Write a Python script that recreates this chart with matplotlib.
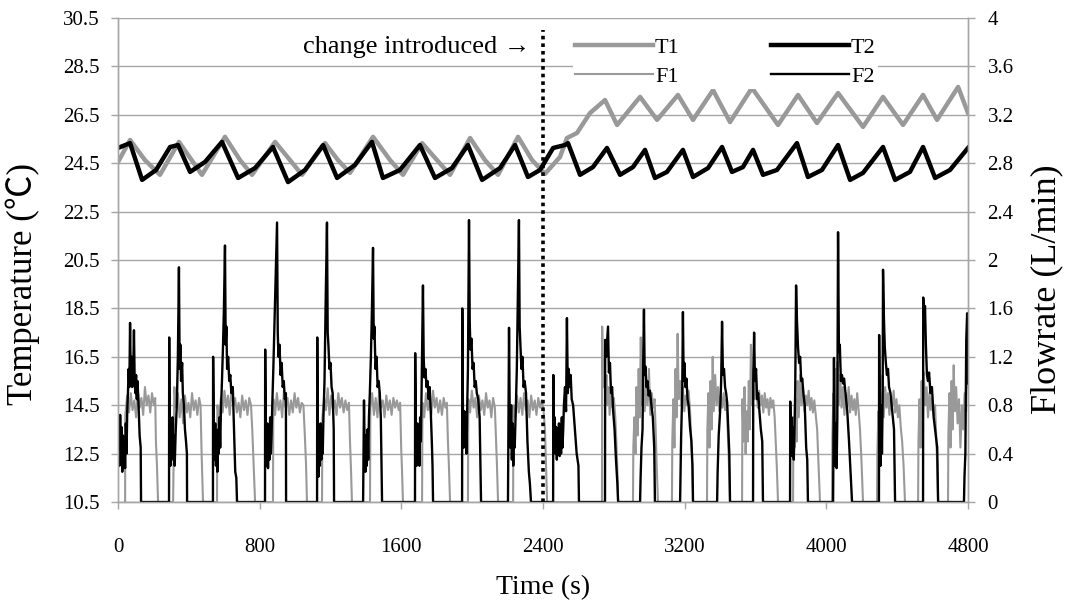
import matplotlib.pyplot as plt

# ---------------------------------------------------------------------------
# Data
# ---------------------------------------------------------------------------

# T1 (left axis, deg C)
t1_time = [0, 68, 152, 237, 344, 407, 474, 604, 689, 757, 887, 971, 1039,
           1169, 1242, 1310, 1440, 1536, 1609, 1717, 1801, 1875, 1988, 2072,
           2146, 2259, 2338, 2411, 2496, 2535, 2592, 2665, 2750, 2818, 2948,
           3044, 3162, 3247, 3360, 3456, 3580, 3727, 3840, 3947, 4066, 4207,
           4320, 4433, 4546, 4625, 4744, 4800]
t1_temp = [24.55, 25.46, 24.63, 24.02, 25.38, 24.72, 24.02, 25.59, 24.63,
           24.02, 25.38, 24.63, 24.02, 25.33, 24.63, 24.10, 25.59, 24.63,
           24.02, 25.33, 24.63, 24.02, 25.54, 24.63, 24.02, 25.59, 24.63,
           24.06, 24.76, 25.54, 25.75, 26.57, 27.11, 26.08, 27.24, 26.29,
           27.32, 26.29, 27.52, 26.20, 27.61, 26.08, 27.32, 26.16, 27.40,
           26.00, 27.24, 26.08, 27.32, 26.29, 27.65, 26.57]

# T2 (left axis, deg C)
t2_time = [0, 68, 136, 215, 294, 339, 407, 491, 587, 678, 774, 875, 960,
           1056, 1158, 1237, 1338, 1434, 1496, 1592, 1705, 1790, 1886, 1976,
           2056, 2157, 2242, 2315, 2383, 2457, 2524, 2541, 2609, 2682, 2761,
           2835, 2908, 2976, 3032, 3100, 3190, 3247, 3332, 3411, 3467, 3529,
           3586, 3642, 3721, 3834, 3896, 3975, 4066, 4134, 4207, 4320, 4388,
           4472, 4546, 4614, 4698, 4800]
t2_temp = [25.13, 25.33, 23.81, 24.22, 25.17, 25.25, 24.14, 24.55, 25.38,
           23.89, 24.30, 25.17, 23.72, 24.22, 25.25, 23.89, 24.43, 25.38,
           23.89, 24.22, 25.25, 23.89, 24.30, 25.25, 23.81, 24.30, 25.25,
           23.93, 24.22, 25.13, 25.25, 25.33, 24.02, 24.34, 25.13, 24.02,
           24.34, 25.05, 23.89, 24.14, 25.05, 23.93, 24.30, 25.17, 24.14,
           24.34, 25.05, 24.02, 24.22, 25.33, 23.93, 24.22, 25.25, 23.81,
           24.10, 25.17, 23.81, 24.14, 25.17, 23.89, 24.22, 25.13]

# F1 (right axis, L/min) as (time, flow) pairs
f1_points = [
    (40, 0), (41, 0.72), (52, 0.88), (62, 0.74), (72, 0.9), (82, 0.76), (92, 0.84), (102, 0.7),
    (112, 0.92), (122, 0.78), (132, 0.86), (142, 0.72), (152, 0.95), (162, 0.8), (172, 0.88),
    (182, 0.74), (192, 0.9), (202, 0.8), (210, 0.86), (214, 0.5), (220, 0.3), (226, 0),
    (311, 0), (314, 0.35), (318, 0.95), (328, 0.78), (338, 0.9), (348, 0.7), (358, 0.85),
    (368, 0.65), (378, 0.88), (388, 0.74), (398, 0.82), (408, 0.7), (418, 0.9), (428, 0.76),
    (438, 0.84), (448, 0.72), (458, 0.86), (466, 0.8), (472, 0.4), (480, 0),
    (559, 0), (561, 0.8), (571, 0.7), (581, 0.86), (591, 0.74), (601, 0.92), (611, 0.78),
    (621, 0.88), (631, 0.72), (641, 0.94), (651, 0.8), (661, 0.86), (671, 0.74), (681, 0.82),
    (691, 0.7), (701, 0.88), (711, 0.76), (721, 0.84), (731, 0.72), (741, 0.86), (751, 0.8),
    (758, 0.6), (766, 0.3), (774, 0),
    (875, 0), (877, 0.85), (887, 0.72), (897, 0.9), (907, 0.76), (917, 0.84), (927, 0.7),
    (937, 0.92), (947, 0.78), (957, 0.86), (967, 0.72), (977, 0.84), (987, 0.74), (997, 0.9),
    (1007, 0.78), (1017, 0.86), (1027, 0.74), (1037, 0.82), (1047, 0.8), (1055, 0.55),
    (1062, 0.3), (1067, 0),
    (1152, 0), (1154, 0.7), (1164, 0.86), (1174, 0.76), (1184, 0.94), (1194, 0.72),
    (1204, 0.88), (1214, 0.76), (1224, 0.84), (1234, 0.72), (1244, 0.9), (1254, 0.78),
    (1264, 0.86), (1274, 0.74), (1284, 0.84), (1294, 0.76), (1304, 0.82), (1310, 0.5),
    (1316, 0.25), (1321, 0),
    (1423, 0), (1425, 0.78), (1435, 0.9), (1445, 0.72), (1455, 0.86), (1465, 0.7),
    (1475, 0.92), (1485, 0.78), (1495, 0.84), (1505, 0.7), (1515, 0.88), (1525, 0.76),
    (1535, 0.84), (1545, 0.72), (1555, 0.86), (1565, 0.78), (1575, 0.84), (1585, 0.76),
    (1593, 0.82), (1599, 0.45), (1604, 0.25), (1609, 0),
    (1717, 0), (1719, 0.82), (1729, 0.7), (1739, 0.9), (1749, 0.76), (1759, 0.84),
    (1769, 0.72), (1779, 0.92), (1789, 0.78), (1799, 0.86), (1809, 0.74), (1819, 0.84),
    (1829, 0.72), (1839, 0.86), (1849, 0.78), (1857, 0.82), (1863, 0.5), (1869, 0.28), (1875, 0),
    (1976, 0), (1978, 0.85), (1988, 0.74), (1998, 0.92), (2008, 0.78), (2018, 0.86),
    (2028, 0.7), (2038, 0.88), (2048, 0.76), (2058, 0.84), (2068, 0.72), (2078, 0.9),
    (2088, 0.78), (2098, 0.84), (2108, 0.7), (2118, 0.86), (2128, 0.78), (2134, 0.55),
    (2140, 0.3), (2146, 0),
    (2231, 0), (2233, 0.8), (2243, 0.7), (2253, 0.88), (2263, 0.74), (2273, 0.86),
    (2283, 0.72), (2293, 0.9), (2303, 0.76), (2313, 0.84), (2323, 0.7), (2333, 0.88),
    (2343, 0.76), (2353, 0.84), (2363, 0.72), (2373, 0.86), (2383, 0.78), (2393, 0.84),
    (2403, 0.76), (2411, 0.6), (2417, 0.3), (2423, 0),
    (2733, 0), (2734, 1.45), (2740, 0.95), (2746, 1.2), (2752, 0.9), (2758, 1.05),
    (2764, 0.8), (2770, 0.95), (2776, 0.72), (2784, 0.9), (2792, 0.78), (2800, 0.86),
    (2808, 0.7), (2814, 0.5), (2820, 0.25), (2824, 0),
    (2908, 0), (2910, 0.45), (2916, 0.7), (2922, 0.4), (2928, 0.95), (2934, 0.55),
    (2940, 1.1), (2946, 0.7), (2952, 1.36), (2958, 0.8), (2966, 1.0), (2974, 0.75),
    (2982, 0.95), (2990, 0.8), (2998, 1.1), (3006, 0.72), (3014, 0.9), (3022, 0.78),
    (3030, 0.85), (3036, 0.6), (3042, 0.3), (3049, 0),
    (3128, 0), (3130, 0.5), (3136, 0.85), (3142, 0.45), (3148, 1.1), (3154, 0.7),
    (3160, 1.39), (3166, 0.85), (3174, 1.0), (3182, 0.8), (3190, 0.95), (3198, 0.75),
    (3206, 0.88), (3214, 0.8), (3222, 0.92), (3230, 0.76), (3236, 0.55), (3242, 0.3), (3247, 0),
    (3326, 0), (3328, 0.6), (3334, 0.9), (3340, 0.45), (3346, 1.0), (3352, 0.6),
    (3358, 1.2), (3364, 0.75), (3372, 1.05), (3380, 0.8), (3388, 0.95), (3396, 0.75),
    (3404, 0.88), (3412, 0.78), (3420, 0.9), (3428, 0.76), (3436, 0.85), (3444, 0.55),
    (3450, 0.3), (3456, 0),
    (3524, 0), (3526, 0.85), (3532, 0.5), (3538, 0.95), (3544, 0.4), (3550, 0.75),
    (3556, 0.5), (3562, 1.0), (3568, 0.6), (3574, 1.3), (3580, 0.8), (3588, 1.1),
    (3596, 0.85), (3604, 1.0), (3612, 0.78), (3620, 0.92), (3628, 0.8), (3636, 0.88),
    (3644, 0.74), (3652, 0.9), (3660, 0.78), (3668, 0.85), (3676, 0.72), (3684, 0.86),
    (3692, 0.78), (3700, 0.84), (3708, 0.7), (3714, 0.5), (3720, 0.3), (3727, 0),
    (3812, 0), (3814, 0.7), (3820, 0.45), (3826, 0.85), (3832, 0.5), (3838, 1.0),
    (3844, 0.7), (3852, 1.05), (3860, 0.8), (3868, 0.95), (3876, 0.75), (3884, 0.88),
    (3892, 0.8), (3900, 0.92), (3908, 0.76), (3916, 0.86), (3924, 0.74), (3932, 0.84),
    (3940, 0.72), (3948, 0.6), (3956, 0.3), (3964, 0),
    (4032, 0), (4034, 0.55), (4040, 0.9), (4046, 0.45), (4052, 1.1), (4058, 0.6),
    (4064, 1.16), (4070, 0.8), (4078, 1.05), (4086, 0.78), (4094, 0.95), (4102, 0.72),
    (4110, 0.9), (4118, 0.78), (4126, 0.95), (4134, 0.74), (4142, 0.88), (4150, 0.76),
    (4158, 0.85), (4166, 0.72), (4174, 0.9), (4182, 0.76), (4190, 0.6), (4198, 0.35), (4207, 0),
    (4286, 0), (4288, 0.4), (4294, 0.75), (4300, 0.35), (4306, 0.9), (4312, 0.5),
    (4318, 1.05), (4324, 0.7), (4332, 0.95), (4340, 0.78), (4348, 0.9), (4356, 0.72),
    (4364, 0.86), (4372, 0.8), (4380, 0.92), (4388, 0.74), (4396, 0.85), (4404, 0.7),
    (4412, 0.8), (4420, 0.62), (4428, 0.5), (4436, 0.3), (4444, 0),
    (4518, 0), (4520, 0.5), (4526, 0.85), (4532, 0.45), (4538, 1.0), (4544, 0.6),
    (4550, 1.07), (4558, 0.8), (4566, 0.95), (4574, 0.7), (4582, 0.9), (4590, 0.76),
    (4598, 0.86), (4606, 0.72), (4614, 0.8), (4620, 0.55), (4626, 0.3), (4631, 0),
    (4687, 0), (4689, 0.55), (4695, 0.9), (4701, 0.45), (4707, 1.0), (4713, 0.6),
    (4719, 1.13), (4725, 0.75), (4733, 0.95), (4741, 0.65), (4749, 0.85), (4757, 0.45),
    (4765, 0.8), (4773, 0.6), (4781, 0.9), (4789, 0.75), (4795, 1.1), (4800, 0.95),
]

# F2 (right axis, L/min) as (time, flow) pairs
f2_points = [
    (0, 0.35), (4, 0.6), (8, 0.3), (12, 0.72), (16, 0.4), (20, 0.62), (24, 0.25), (28, 0.55),
    (32, 0.3), (36, 0.5), (40, 0.28), (44, 0.65), (48, 0.4), (52, 0.75), (56, 0.9), (60, 1.1),
    (64, 0.95), (68, 1.48), (72, 1.0), (76, 1.2), (80, 0.95), (86, 1.1), (90, 1.42), (94, 1.0),
    (98, 0.9), (102, 1.05), (106, 0.85), (110, 1.0), (116, 0.8), (122, 0.55), (128, 0.45), (130, 0),
    (288, 0), (289, 1.36), (292, 0.5), (296, 0.3), (300, 0.62), (304, 0.35), (308, 0.7),
    (312, 0.4), (316, 0.55), (320, 0.3), (326, 0.6), (332, 0.8), (338, 1.2), (344, 1.94),
    (348, 1.1), (352, 1.3), (356, 1.0), (362, 1.15), (366, 0.9), (372, 0.8), (378, 0.6),
    (384, 0.5), (389, 0.4), (390, 0),
    (536, 0), (537, 1.2), (541, 0.6), (545, 0.35), (549, 0.65), (553, 0.3), (557, 0.55),
    (561, 0.25), (565, 0.6), (569, 0.4), (573, 0.7), (577, 0.45), (581, 0.75), (587, 1.0),
    (593, 1.3), (598, 1.6), (604, 2.12), (608, 1.3), (612, 1.45), (616, 1.1), (622, 1.2),
    (628, 1.0), (634, 1.05), (640, 0.9), (648, 0.95), (655, 0.6), (662, 0.25), (668, 0.2), (672, 0),
    (830, 0), (831, 1.26), (835, 0.5), (839, 0.3), (843, 0.65), (847, 0.28), (851, 0.6),
    (855, 0.35), (859, 0.7), (863, 0.4), (867, 0.55), (871, 0.8), (877, 1.1), (884, 1.5),
    (891, 1.9), (898, 2.31), (902, 1.4), (906, 1.2), (912, 1.3), (918, 1.05), (924, 1.15),
    (930, 0.95), (936, 1.0), (942, 0.85), (948, 0.9), (949, 0),
    (1124, 0), (1125, 1.36), (1128, 0.4), (1132, 0.21), (1136, 0.6), (1140, 0.3),
    (1144, 0.65), (1148, 0.35), (1152, 0.5), (1156, 0.4), (1160, 0.7), (1166, 1.0),
    (1172, 1.6), (1180, 2.31), (1184, 1.4), (1188, 1.3), (1194, 1.1), (1200, 1.15),
    (1206, 0.95), (1212, 0.9), (1218, 0.6), (1220, 0),
    (1384, 0), (1389, 0.84), (1393, 0.4), (1397, 0.25), (1401, 0.55), (1405, 0.3),
    (1409, 0.6), (1413, 0.35), (1417, 0.7), (1422, 0.9), (1428, 1.2), (1434, 1.6),
    (1440, 2.1), (1444, 1.35), (1448, 1.45), (1454, 1.1), (1460, 1.2), (1466, 0.95),
    (1472, 1.0), (1478, 0.9), (1484, 0.7), (1491, 0),
    (1677, 0), (1678, 1.23), (1682, 0.6), (1686, 0.3), (1690, 0.65), (1694, 0.35),
    (1698, 0.6), (1702, 0.3), (1706, 0.7), (1710, 0.5), (1714, 0.9), (1722, 1.79),
    (1726, 1.2), (1730, 1.03), (1736, 1.1), (1742, 0.95), (1748, 1.0), (1754, 0.85),
    (1760, 0.95), (1766, 0.75), (1772, 0.5), (1776, 0.3), (1779, 0),
    (1943, 0), (1944, 1.6), (1948, 0.7), (1952, 0.45), (1956, 0.75), (1960, 0.5),
    (1964, 0.68), (1968, 0.4), (1972, 0.8), (1976, 1.1), (1982, 2.33), (1986, 1.5),
    (1990, 1.26), (1996, 1.35), (2002, 1.1), (2008, 1.15), (2014, 0.95), (2020, 1.0),
    (2026, 0.9), (2034, 0.85), (2042, 0.7), (2050, 0),
    (2202, 0), (2208, 1.44), (2212, 0.7), (2216, 0.45), (2220, 0.8), (2224, 0.35),
    (2228, 0.65), (2232, 0.3), (2236, 0.6), (2240, 0.45), (2246, 0.75), (2252, 1.1),
    (2258, 1.7), (2264, 2.33), (2268, 1.45), (2272, 1.31), (2278, 1.1), (2284, 1.2),
    (2290, 0.95), (2296, 1.0), (2304, 0.9), (2312, 0.5), (2320, 0.25), (2326, 0.15), (2332, 0),
    (2457, 0), (2458, 1.05), (2462, 0.5), (2466, 0.7), (2470, 0.4), (2474, 0.62),
    (2478, 0.35), (2482, 0.6), (2486, 0.42), (2490, 0.65), (2494, 0.38), (2498, 0.58),
    (2502, 0.4), (2506, 0.7), (2510, 0.45), (2514, 0.6), (2518, 0.8), (2524, 0.95),
    (2530, 0.75), (2535, 1.52), (2540, 0.9), (2545, 1.1), (2550, 0.95), (2556, 1.05),
    (2562, 0.85), (2570, 0.8), (2580, 0.6), (2590, 0.4), (2600, 0.3), (2603, 0),
    (2750, 0), (2751, 1.34), (2756, 1.2), (2767, 1.45), (2772, 1.07), (2778, 1.15),
    (2784, 0.9), (2790, 0.95), (2796, 0.75), (2804, 0.6), (2812, 0.35), (2820, 0.15), (2824, 0),
    (2948, 0), (2951, 0.2), (2956, 0.45), (2962, 0.6), (2966, 1.2), (2970, 1.59),
    (2974, 1.05), (2978, 1.12), (2984, 0.95), (2990, 1.0), (2996, 0.88), (3004, 0.92),
    (3012, 0.8), (3020, 0.7), (3028, 0.45), (3032, 0),
    (3174, 0), (3176, 0.2), (3180, 0.55), (3186, 0.9), (3190, 1.57), (3194, 1.0),
    (3198, 1.15), (3204, 0.95), (3210, 1.02), (3216, 0.85), (3222, 0.8), (3230, 0.62),
    (3238, 0.5), (3244, 0.3), (3247, 0),
    (3383, 0), (3386, 0.25), (3392, 0.55), (3400, 0.75), (3406, 1.0), (3411, 1.49),
    (3416, 1.05), (3422, 1.1), (3428, 0.95), (3434, 0.9), (3440, 0.82), (3446, 0.6),
    (3452, 0.4), (3456, 0),
    (3586, 0), (3587, 1.0), (3592, 1.4), (3597, 1.0), (3603, 1.1), (3609, 0.85),
    (3615, 0.9), (3622, 0.75), (3630, 0.6), (3638, 0.5), (3642, 0),
    (3795, 0), (3796, 0.83), (3800, 0.45), (3804, 0.7), (3808, 0.38), (3812, 0.62),
    (3816, 0.35), (3820, 0.6), (3824, 0.9), (3829, 1.79), (3834, 1.5), (3840, 1.28),
    (3846, 1.15), (3852, 1.2), (3858, 1.0), (3864, 1.02), (3870, 0.9), (3878, 0.8),
    (3886, 0.45), (3892, 0.35), (3896, 0),
    (4038, 0), (4043, 1.19), (4046, 0.6), (4050, 0.3), (4054, 0.65), (4058, 0.28),
    (4062, 0.7), (4066, 2.23), (4071, 1.24), (4076, 1.3), (4082, 1.0), (4088, 1.05),
    (4094, 0.98), (4100, 1.02), (4108, 0.9), (4118, 0.75), (4128, 0.5), (4138, 0.21), (4145, 0),
    (4297, 0), (4298, 1.38), (4302, 0.7), (4306, 0.3), (4310, 0.8), (4314, 0.4),
    (4318, 0.85), (4320, 1.92), (4325, 1.52), (4330, 1.28), (4336, 1.15), (4342, 1.05),
    (4348, 1.1), (4354, 0.95), (4362, 0.9), (4372, 0.75), (4382, 0.6), (4388, 0),
    (4546, 0), (4547, 1.69), (4552, 1.55), (4557, 1.62), (4562, 1.3), (4568, 1.05),
    (4574, 1.0), (4580, 1.07), (4588, 0.9), (4596, 0.95), (4606, 0.7), (4618, 0.55),
    (4626, 0.45), (4631, 0),
    (4777, 0), (4780, 0.21), (4785, 0.4), (4790, 1.34), (4795, 1.56), (4798, 1.15), (4800, 0.98),
]

time_ticks = [0, 800, 1600, 2400, 3200, 4000, 4800]
temp_ticks = [10.5, 12.5, 14.5, 16.5, 18.5, 20.5, 22.5, 24.5, 26.5, 28.5, 30.5]
flow_ticks = [0, 0.4, 0.8, 1.2, 1.6, 2.0, 2.4, 2.8, 3.2, 3.6, 4.0]
flow_tick_labels = ["0", "0.4", "0.8", "1.2", "1.6", "2", "2.4", "2.8", "3.2", "3.6", "4"]
change_time = 2400

# ---------------------------------------------------------------------------
# Style
# ---------------------------------------------------------------------------

GREY = "#999999"
GRID = "#a6a6a6"
plt.rcParams["font.family"] = ["Liberation Serif", "DejaVu Serif"]

f1_time, f1_flow = zip(*f1_points)
f2_time, f2_flow = zip(*f2_points)

fig = plt.figure(figsize=(10.7, 6.1), dpi=100)
ax = fig.add_axes([0.1103, 0.177, 0.7944, 0.7935])
ax2 = ax.twinx()

ax.plot(t1_time, t1_temp, color=GREY, lw=3.2, label="T1", solid_joinstyle="round")
ax.plot(t2_time, t2_temp, color="black", lw=3.2, label="T2", solid_joinstyle="round")
ax2.plot(f1_time, f1_flow, color=GREY, lw=1.5, label="F1")
ax2.plot(f2_time, f2_flow, color="black", lw=1.7, label="F2")
ax2.axvline(change_time, ymax=0.975, color="black", lw=2.6, ls=(0, (1, 1.1)), zorder=5)

ax.set_xlim(0, 4800)
ax.set_ylim(10.5, 30.5)
ax2.set_ylim(0, 4)
ax.set_xticks(time_ticks)
ax.set_yticks(temp_ticks)
ax.set_yticklabels([f"{v:.1f}" for v in temp_ticks])
ax2.set_yticks(flow_ticks)
ax2.set_yticklabels(flow_tick_labels)

ax.grid(axis="y", color=GRID, lw=1.0)
ax.set_axisbelow(True)
for a in (ax, ax2):
    for sp in a.spines.values():
        sp.set_color(GRID)
        sp.set_linewidth(1.0)
    a.spines["top"].set_visible(False)
ax.tick_params(axis="both", colors=GRID, labelcolor="black", labelsize=15,
               length=5, width=1, direction="out")
ax2.tick_params(axis="y", colors=GRID, labelcolor="black", labelsize=15,
                length=5, width=1, direction="out")
ax.tick_params(axis="x", pad=21)
ax.tick_params(axis="y", pad=8)
ax2.tick_params(axis="y", pad=9)

ax.set_xlabel("Time (s)", fontsize=20, labelpad=13)
ax.set_ylabel("Temperature (\u2103)", fontsize=25,
              family=["Liberation Serif", "Noto Sans CJK SC", "DejaVu Sans"])
ax2.set_ylabel("Flowrate (L/min)", fontsize=26)
# left label: anchor is its right edge; right label: anchor is its left edge
ax.yaxis.set_label_coords(-0.092, 0.45)
ax2.yaxis.set_label_coords(1.073, 0.44)

ax.text(change_time - 70, 29.3, "change introduced \u2192", fontsize=19,
        ha="right", va="center")

lines_t = ax.get_lines()
lines_f = ax2.get_lines()
# column-major fill: row 1 = T1, T2 ; row 2 = F1, F2
order = [lines_t[0], lines_f[0], lines_t[1], lines_f[1]]
leg = ax2.legend(order, [h.get_label() for h in order], ncol=2, loc="upper left",
                 bbox_to_anchor=(0.522, 0.988), fontsize=16, frameon=True,
                 facecolor="white", edgecolor="none", framealpha=1.0,
                 handlelength=3.5, handletextpad=0.1, columnspacing=4.1,
                 labelspacing=0.4, borderpad=0.1, fancybox=False)
leg.set_zorder(10)

fig.savefig("out.png", dpi=100)
